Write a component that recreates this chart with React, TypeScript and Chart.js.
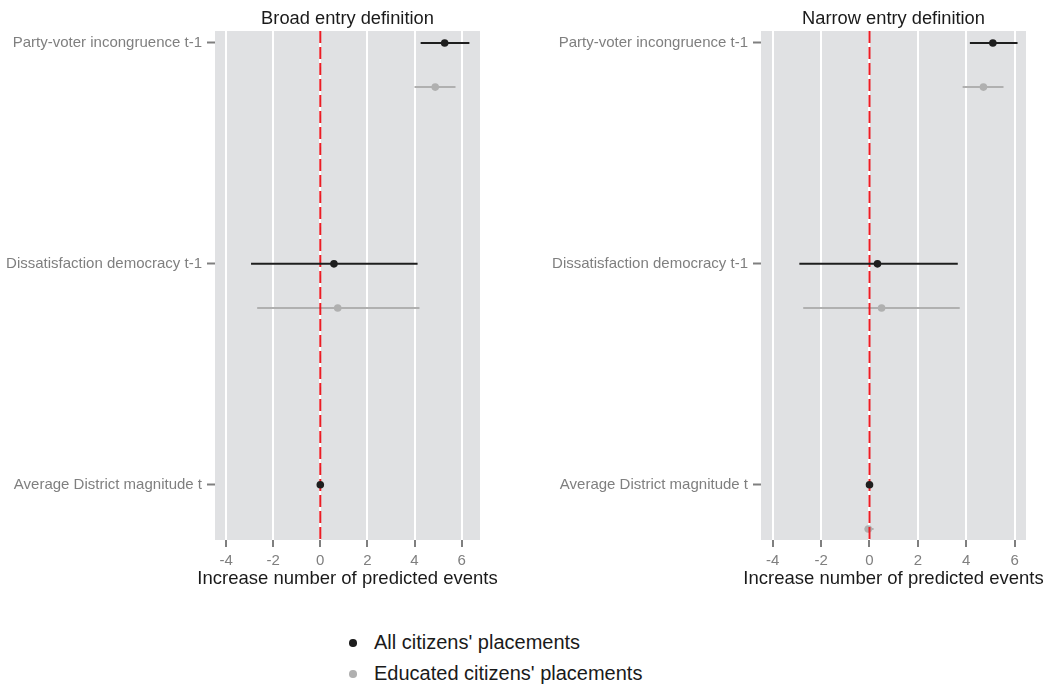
import React, { useEffect, useRef } from "react";
import { Chart, registerables } from "chart.js";

Chart.register(...registerables);

const FONT = "'Liberation Sans', Arial, Helvetica, sans-serif";

// ---------- data ----------
const categories = [
  "Party-voter incongruence t-1",
  "Dissatisfaction democracy t-1",
  "Average District magnitude t",
];
const xTicks = [-4, -2, 0, 2, 4, 6];
const panelTitles = ["Broad entry definition", "Narrow entry definition"];
const xAxisTitle = "Increase number of predicted events";
const seriesNames = ["All citizens' placements", "Educated citizens' placements"];

// Broad entry definition
const broadAllEst = [5.28, 0.58, 0.0];
const broadAllLo = [4.26, -2.94, -0.02];
const broadAllHi = [6.33, 4.13, 0.02];
const broadEduEst = [4.88, 0.74, null];
const broadEduLo = [4.0, -2.68, null];
const broadEduHi = [5.74, 4.21, null];

// Narrow entry definition
const narrowAllEst = [5.1, 0.33, 0.0];
const narrowAllLo = [4.15, -2.9, -0.02];
const narrowAllHi = [6.12, 3.65, 0.02];
const narrowEduEst = [4.71, 0.5, -0.05];
const narrowEduLo = [3.85, -2.74, -0.2];
const narrowEduHi = [5.54, 3.73, 0.17];

// ---------- styling ----------
const BLACK = "#1e1e1e";
const GREY = "#b0b0b0";
const RED = "#ec1c24";
const PANEL_BG = "#e0e1e3";
const TICK_GREY = "#7f7f7f";
const DODGE = 0.2;
const Y_MIN = -0.054;
const Y_MAX = 2.25;

function buildDatasets(
  allEst: (number | null)[],
  allLo: (number | null)[],
  allHi: (number | null)[],
  eduEst: (number | null)[],
  eduLo: (number | null)[],
  eduHi: (number | null)[]
) {
  const ds: any[] = [];
  ds.push({
    type: "scatter",
    data: allEst.map((v, i) => (v == null ? null : { x: v, y: i })).filter(Boolean),
    pointRadius: 3.8,
    pointBackgroundColor: BLACK,
    pointBorderWidth: 0,
    showLine: false,
    order: 0,
  });
  allEst.forEach((v, i) => {
    if (v == null || allLo[i] == null || allHi[i] == null) return;
    ds.push({
      type: "line",
      data: [
        { x: allLo[i], y: i },
        { x: allHi[i], y: i },
      ],
      borderColor: BLACK,
      borderWidth: 2,
      pointRadius: 0,
      order: 1,
    });
  });
  ds.push({
    type: "line",
    data: [
      { x: 0, y: Y_MIN },
      { x: 0, y: Y_MAX },
    ],
    borderColor: RED,
    borderWidth: 2,
    borderDash: [12, 4],
    pointRadius: 0,
    order: 2,
  });
  ds.push({
    type: "scatter",
    data: eduEst.map((v, i) => (v == null ? null : { x: v, y: i + DODGE })).filter(Boolean),
    pointRadius: 3.8,
    pointBackgroundColor: GREY,
    pointBorderWidth: 0,
    showLine: false,
    order: 3,
  });
  eduEst.forEach((v, i) => {
    if (v == null || eduLo[i] == null || eduHi[i] == null) return;
    ds.push({
      type: "line",
      data: [
        { x: eduLo[i], y: i + DODGE },
        { x: eduHi[i], y: i + DODGE },
      ],
      borderColor: GREY,
      borderWidth: 2,
      pointRadius: 0,
      order: 4,
    });
  });
  return ds;
}

const panelBgPlugin = {
  id: "panelBg",
  beforeDraw(chart: any) {
    const { ctx, chartArea } = chart;
    if (!chartArea) return;
    ctx.save();
    ctx.fillStyle = PANEL_BG;
    ctx.fillRect(chartArea.left, chartArea.top, chartArea.right - chartArea.left, chartArea.bottom - chartArea.top);
    ctx.restore();
  },
};

const panelTextPlugin = {
  id: "panelText",
  afterDraw(chart: any, _args: any, opts: any) {
    const { ctx, chartArea } = chart;
    const cx = (chartArea.left + chartArea.right) / 2;
    ctx.save();
    ctx.fillStyle = "#1a1a1a";
    ctx.textAlign = "center";
    ctx.textBaseline = "alphabetic";
    ctx.font = `18.3px ${FONT}`;
    ctx.fillText(opts.title, cx, 24);
    ctx.font = `18.5px ${FONT}`;
    ctx.fillText(opts.xTitle, cx, 584);
    ctx.restore();
  },
};

type PanelProps = {
  title: string;
  width: number;
  height: number;
  yAxisWidth: number;
  padRight: number;
  xMin: number;
  xMax: number;
  datasets: any[];
};

function Panel(props: PanelProps) {
  const ref = useRef<HTMLCanvasElement | null>(null);
  useEffect(() => {
    if (!ref.current) return;
    const chart = new Chart(ref.current, {
      type: "scatter",
      data: { datasets: props.datasets },
      plugins: [panelBgPlugin, panelTextPlugin],
      options: {
        animation: false,
        responsive: false,
        devicePixelRatio: 1,
        layout: { padding: { top: 31, right: props.padRight, left: 0, bottom: 0 } },
        plugins: {
          legend: { display: false },
          tooltip: { enabled: false },
          title: { display: false },
          panelText: { title: props.title, xTitle: xAxisTitle },
        } as any,
        scales: {
          x: {
            type: "linear",
            min: props.xMin,
            max: props.xMax,
            afterBuildTicks: (scale: any) => {
              scale.ticks = xTicks.map((v) => ({ value: v }));
            },
            afterFit: (scale: any) => {
              scale.height = 60;
            },
            border: { display: false },
            grid: {
              color: "#ffffff",
              lineWidth: 2,
              drawTicks: true,
              tickLength: 7,
              tickColor: TICK_GREY,
              tickWidth: 2,
            },
            ticks: {
              color: TICK_GREY,
              font: { family: FONT, size: 15 },
              padding: 5,
              callback: (v: any) => String(v),
            },
            title: { display: false },
          },
          y: {
            type: "linear",
            reverse: true,
            min: Y_MIN,
            max: Y_MAX,
            afterBuildTicks: (scale: any) => {
              scale.ticks = categories.map((_, i) => ({ value: i }));
            },
            afterFit: (scale: any) => {
              scale.width = props.yAxisWidth;
            },
            border: { display: false },
            grid: {
              drawOnChartArea: false,
              drawTicks: true,
              tickLength: 8,
              tickColor: TICK_GREY,
              tickWidth: 2,
              color: TICK_GREY,
            },
            ticks: {
              color: TICK_GREY,
              font: { family: FONT, size: 15 },
              padding: 5,
              callback: (_v: any, i: number) => categories[i],
            },
          },
        },
      } as any,
    });
    return () => chart.destroy();
  }, []);
  return <canvas ref={ref} width={props.width} height={props.height} style={{ width: props.width, height: props.height, display: "block" }} />;
}

function LegendRow({ color, text, top }: { color: string; text: string; top: number }) {
  return (
    <>
      <div
        style={{
          position: "absolute",
          left: 353 - 3.8,
          top: top - 3.8,
          width: 7.6,
          height: 7.6,
          borderRadius: "50%",
          background: color,
        }}
      />
      <div
        style={{
          position: "absolute",
          left: 374,
          top: top - 11,
          fontFamily: FONT,
          fontSize: 20,
          lineHeight: "20px",
          color: "#1a1a1a",
          whiteSpace: "nowrap",
        }}
      >
        {text}
      </div>
    </>
  );
}

export default function App() {
  const H = 600;
  return (
    <div style={{ position: "absolute", left: 0, top: 0, width: 1055, height: 687, background: "#ffffff", overflow: "hidden" }}>
      <div style={{ position: "absolute", left: 0, top: 0 }}>
        <Panel
          title={panelTitles[0]}
          width={527}
          height={H}
          yAxisWidth={215}
          padRight={47}
          xMin={-4.47}
          xMax={6.78}
          datasets={buildDatasets(broadAllEst, broadAllLo, broadAllHi, broadEduEst, broadEduLo, broadEduHi)}
        />
      </div>
      <div style={{ position: "absolute", left: 527, top: 0 }}>
        <Panel
          title={panelTitles[1]}
          width={528}
          height={H}
          yAxisWidth={234}
          padRight={29}
          xMin={-4.485}
          xMax={6.47}
          datasets={buildDatasets(narrowAllEst, narrowAllLo, narrowAllHi, narrowEduEst, narrowEduLo, narrowEduHi)}
        />
      </div>
      <LegendRow color={BLACK} text={seriesNames[0]} top={643} />
      <LegendRow color={GREY} text={seriesNames[1]} top={674} />
    </div>
  );
}
